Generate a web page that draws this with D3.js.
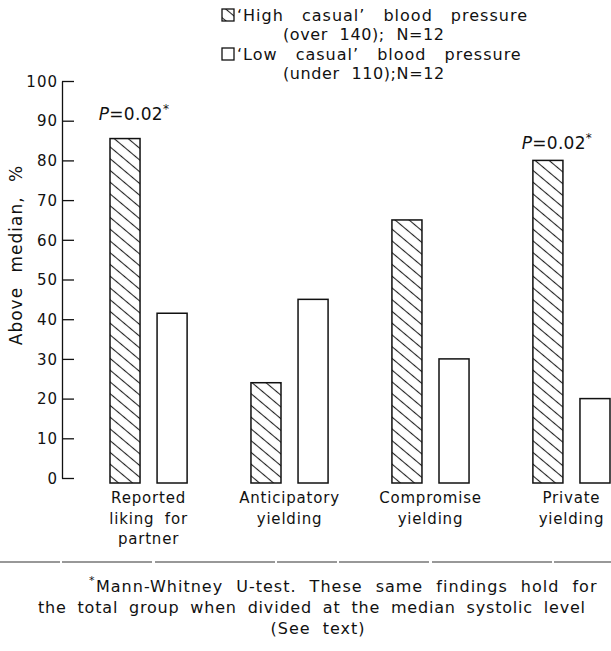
<!DOCTYPE html>
<html>
<head>
<meta charset="utf-8">
<script src="https://cdn.jsdelivr.net/npm/d3@7"></script>
<style>
  body { margin: 0; background: #fff; }
  svg { display: block; }
  text { font-family: "DejaVu Sans", sans-serif; fill: #111; }
  .axis text { font-size: 15px; letter-spacing: 1px; }
  .axis path, .axis line { stroke: #111; stroke-width: 1.3; }
</style>
</head>
<body>
<script>
// categories and values
const categories = ["liking", "anticipatory", "compromise", "private"];
const categoryLabels = [
    ["Reported", "liking for", "partner"],
    ["Anticipatory", "yielding"],
    ["Compromise", "yielding"],
    ["Private", "yielding"]
];
const series = ["high", "low"];
const highValues = [85.5, 24, 65, 80];
const lowValues = [41.5, 45, 30, 20];
const yTicks = [0, 10, 20, 30, 40, 50, 60, 70, 80, 90, 100];
const pNotes = [{ cat: "liking", text: "P", val: "=0.02" }, { cat: "private", text: "P", val: "=0.02" }];
const legendRows = [
    ["\u2018High casual\u2019 blood pressure", "(over 140); N=12"],
    ["\u2018Low casual\u2019 blood pressure", "(under 110);N=12"]
];
const footnote = [
    "Mann-Whitney U-test. These same findings hold for",
    "the total group when divided at the median systolic level",
    "(See text)"
];

const width = 611, height = 651;

const svg = d3.select("body").append("svg")
    .attr("width", width)
    .attr("height", height);

// hatch pattern
const defs = svg.append("defs");
defs.append("pattern")
    .attr("id", "hatch")
    .attr("patternUnits", "userSpaceOnUse")
    .attr("width", 9).attr("height", 9)
    .attr("patternTransform", "rotate(40)")
    .append("line")
    .attr("x1", 0).attr("y1", 4.5).attr("x2", 9).attr("y2", 4.5)
    .attr("stroke", "#222").attr("stroke-width", 1.1);

// scales
const y = d3.scaleLinear().domain([0, 100]).range([478, 81]);
const x0 = d3.scaleBand().domain(categories).range([110, 610]).paddingInner(0.453).paddingOuter(0);
const x1 = d3.scaleBand().domain(series).range([0, x0.bandwidth()]).paddingInner(0.362);

// y axis, ticks pointing inward
const axisX = 62;
svg.append("g").attr("class", "axis")
    .attr("transform", "translate(" + axisX + ",0)")
    .call(d3.axisLeft(y).tickValues(yTicks).tickSizeInner(-12).tickSizeOuter(0).tickPadding(4))
    .call(g => g.selectAll("text").attr("dy", "0.35em"));

svg.append("text")
    .attr("transform", "translate(22,255) rotate(-90)")
    .attr("text-anchor", "middle")
    .style("font-size", "17px")
    .style("letter-spacing", "1px")
    .style("word-spacing", "8px")
    .text("Above median, %");

// bars
const rows = categories.map((c, i) => ({ cat: c, high: highValues[i], low: lowValues[i] }));
const groups = svg.selectAll(".grp").data(rows).enter().append("g")
    .attr("class", "grp")
    .attr("transform", d => "translate(" + x0(d.cat) + ",0)");

groups.selectAll("rect").data(d => series.map(s => ({ s: s, v: d[s] }))).enter().append("rect")
    .attr("x", d => x1(d.s))
    .attr("y", d => y(d.v))
    .attr("width", x1.bandwidth())
    .attr("height", d => y(0) + 5 - y(d.v))
    .attr("fill", d => d.s == "high" ? "url(#hatch)" : "#fff")
    .attr("stroke", "#111")
    .attr("stroke-width", 1.5);

// category labels
groups.each(function (d, i) {
    const t = d3.select(this).append("text")
        .attr("x", x0.bandwidth() / 2)
        .attr("y", 503)
        .attr("text-anchor", "middle")
        .style("font-size", "15px")
        .style("letter-spacing", "0.8px")
        .style("word-spacing", "5px");
    categoryLabels[i].forEach((line, j) => {
        t.append("tspan").attr("x", x0.bandwidth() / 2).attr("dy", j == 0 ? 0 : 20.5).text(line);
    });
});

// P annotations (hand placed above the hatched bars)
const pLift = [19, 11];
pNotes.forEach((p, i) => {
    const v = highValues[categories.indexOf(p.cat)];
    const t = svg.append("text")
        .attr("x", x0(p.cat) + x1("high") + x1.bandwidth() / 2 + 9)
        .attr("y", y(v) - pLift[i])
        .attr("text-anchor", "middle")
        .style("font-size", "17px")
        .style("letter-spacing", "0.3px");
    t.append("tspan").style("font-style", "italic").text(p.text);
    t.append("tspan").text(p.val);
    t.append("tspan").attr("dy", -7).style("font-size", "12px").text("*");
});

// legend
const legend = svg.append("g").attr("transform", "translate(222,0)");
legendRows.forEach((r, i) => {
    const top = 9 + i * 39;
    legend.append("rect")
        .attr("x", 0).attr("y", top)
        .attr("width", 12).attr("height", 12)
        .attr("fill", i == 0 ? "url(#hatch)" : "#fff")
        .attr("stroke", "#111").attr("stroke-width", 1.3);
    legend.append("text").attr("x", 15).attr("y", top + 12)
        .style("font-size", "16px").style("letter-spacing", "1px").style("word-spacing", "12px")
        .text(r[0]);
    legend.append("text").attr("x", 61).attr("y", top + 31)
        .style("font-size", "16px").style("letter-spacing", "0.6px").style("word-spacing", "6px")
        .text(r[1]);
});

// separator line
svg.append("line")
    .attr("x1", 0).attr("x2", width)
    .attr("y1", 562).attr("y2", 562)
    .attr("stroke", "#333").attr("stroke-width", 1.2)
    .attr("stroke-dasharray", "60,2,90,3,120,2");

// footnote
const fn = svg.append("text").style("font-size", "16px")
    .style("letter-spacing", "1px").style("word-spacing", "7px");
fn.append("tspan").attr("x", 89).attr("y", 584).style("font-size", "11px").text("*");
fn.append("tspan").attr("x", 96).attr("y", 592).text(footnote[0]);
svg.append("text").attr("x", 38).attr("y", 613)
    .style("font-size", "16px").style("letter-spacing", "0.8px").style("word-spacing", "5px").text(footnote[1]);
svg.append("text").attr("x", 318).attr("y", 634).attr("text-anchor", "middle")
    .style("font-size", "16px").style("letter-spacing", "1px").style("word-spacing", "6px").text(footnote[2]);
</script>
</body>
</html>
